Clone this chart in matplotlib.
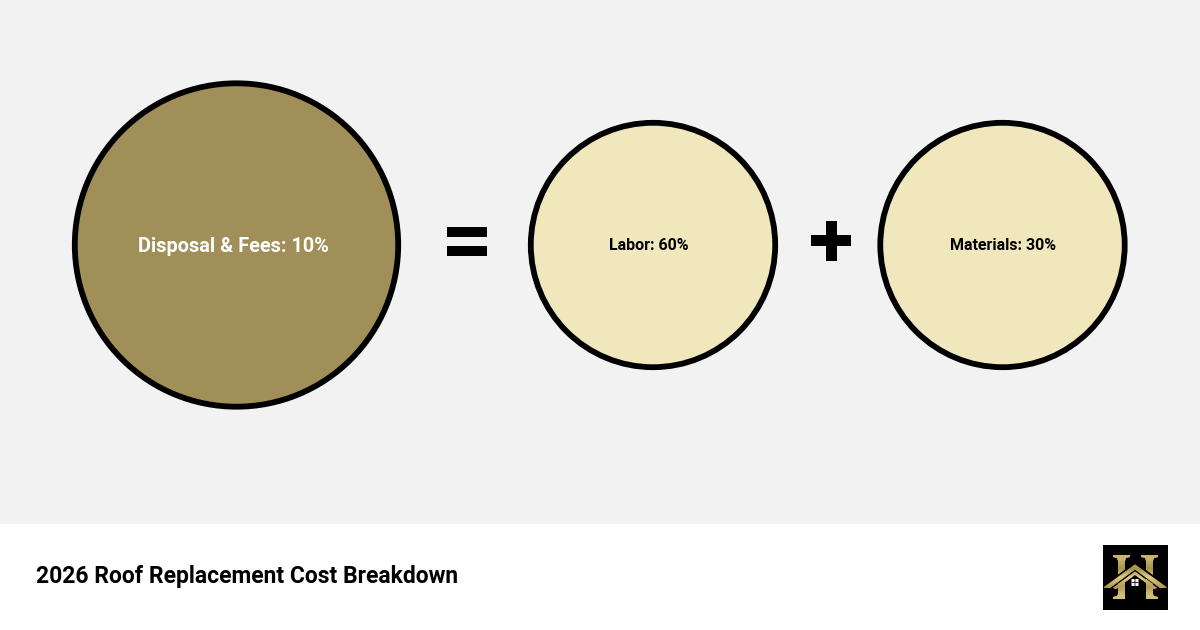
import matplotlib
matplotlib.use("Agg")
import matplotlib.pyplot as plt
from matplotlib.patches import Circle, Rectangle, Polygon
from matplotlib.colors import LinearSegmentedColormap
import numpy as np

categories = ["Disposal & Fees", "Labor", "Materials"]
shares = [10, 60, 30]
title = "2026 Roof Replacement Cost Breakdown"

W, H = 1200, 630
fig = plt.figure(figsize=(W / 100, H / 100), dpi=100, facecolor="white")
ax = fig.add_axes([0, 0, 1, 1])
ax.set_xlim(0, W)
ax.set_ylim(H, 0)
ax.axis("off")
px = 72 / 100

ax.add_patch(Rectangle((0, 0), W, 524, fc="#f2f2f2", ec="none", zorder=0))

styles = [
    dict(c=(236.5, 245), r=161.7, lw=5.8, fc="#a08f58", tc="white", fs=19.9, tx=233.5, ty=251.5),
    dict(c=(653, 245), r=122.2, lw=5.8, fc="#f1e7bd", tc="black", fs=16.05, tx=649.3, ty=250),
    dict(c=(1002.5, 245), r=122.2, lw=5.8, fc="#f1e7bd", tc="black", fs=16.05, tx=1003, ty=250),
]
for name, val, s in zip(categories, shares, styles):
    ax.add_patch(Circle(s["c"], s["r"], fc=s["fc"], ec="black", lw=s["lw"] * px, zorder=2))
    ax.text(s["tx"], s["ty"], f"{name}: {val}%", color=s["tc"], fontsize=s["fs"] * px,
            family="Roboto", weight="bold", ha="center", va="baseline", zorder=3)

# operators
for y in (227, 246):
    ax.add_patch(Rectangle((447, y), 40, 10, fc="black", ec="none", zorder=2))
ax.add_patch(Rectangle((826, 221), 11, 40, fc="black", ec="none", zorder=2))
ax.add_patch(Rectangle((811, 235), 40, 11, fc="black", ec="none", zorder=2))

# footer title
ax.text(36, 583, title, color="black", fontsize=22.9 * px, family="Roboto", weight="bold",
        ha="left", va="baseline", zorder=3)

# logo
ax.add_patch(Rectangle((1103, 545), 65, 65, fc="black", ec="none", zorder=2))
grad = np.array([[0.0], [0.25], [0.5], [0.75], [1.0]])
cm = LinearSegmentedColormap.from_list("g", ["#c9b36c", "#a8914c", "#dcca86", "#b39c55", "#d3bf78"])

def gold_poly(pts, z):
    p = Polygon(pts, closed=True, fc="#c2ab62", ec="none", zorder=z)
    ax.add_patch(p)
    im = ax.imshow(grad, extent=(1103, 1168, 600, 555), cmap=cm, aspect="auto", zorder=z,
                   interpolation="bilinear")
    im.set_clip_path(p)

def black_poly(pts, z):
    ax.add_patch(Polygon(pts, closed=True, fc="black", ec="none", zorder=z))

# H stems with serifs
for sl, sr, a, b in [(1118, 1125, 1113, 1130), (1146, 1153, 1141, 1158)]:
    gold_poly([(a, 555), (b, 555), (b, 557), (sr + 1, 558), (sr, 561), (sr, 594), (sr + 1, 596), (b, 597),
               (b, 599), (a, 599), (a, 597), (sl - 1, 596), (sl, 594), (sl, 561), (sl - 1, 558), (a, 557)], 3)
# black margin around the roof
black_poly([(1135, 562), (1103, 586), (1103, 590), (1168, 590), (1168, 586)], 3.1)
# stems continue beneath the roof
for sl, sr in [(1118, 1125), (1146, 1153)]:
    gold_poly([(sl, 584), (sr, 579), (sr, 594), (sl, 594)] if sl < 1135 else [(sl, 579), (sr, 584), (sr, 594), (sl, 594)], 3.15)
# outer roof chevron
gold_poly([(1135, 564.5), (1103.5, 587.5), (1110, 588), (1135, 569.5), (1160, 588), (1167, 587.5)], 3.2)
# second chevron
gold_poly([(1135, 571.5), (1113, 588), (1116, 589), (1135, 575), (1154, 589), (1157, 588)], 3.3)
# house interior
black_poly([(1135, 575.5), (1125, 583), (1125, 599), (1146, 599), (1146, 583)], 3.35)
# window
ax.add_patch(Rectangle((1131.5, 579), 7, 7, fc="white", ec="none", zorder=3.4, snap=False))
ax.add_patch(Rectangle((1134.6, 579), 0.8, 7, fc="black", ec="none", zorder=3.45, snap=False))
ax.add_patch(Rectangle((1131.5, 582.1), 7, 0.8, fc="black", ec="none", zorder=3.45, snap=False))

ax.set_xlim(0, W)
ax.set_ylim(H, 0)
fig.savefig("out.png", dpi=100, facecolor="white")
